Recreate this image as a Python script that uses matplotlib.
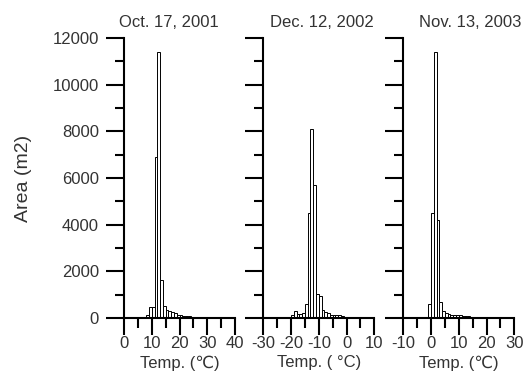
import numpy as np
import matplotlib.pyplot as plt
from matplotlib.ticker import MultipleLocator

plt.rcParams['font.family'] = ['Liberation Sans', 'DejaVu Sans']
plt.rcParams['axes.unicode_minus'] = False

# histogram data, 1 degC bins (left edge of bin)
titles = ['Oct. 17, 2001', 'Dec. 12, 2002', 'Nov. 13, 2003']
xlabels = ['Temp. (\u2103)', 'Temp. ( \u00b0C)', 'Temp. (\u2103)']
xlims = [(0, 40), (-30, 10), (-10, 30)]

bins_2001 = list(range(8, 26))
area_2001 = [150, 480, 470, 6900, 11400, 1650, 520, 330, 310, 250,
             200, 120, 110, 100, 100, 90, 60, 20]

bins_2002 = list(range(-20, 6))
area_2002 = [150, 300, 180, 160, 200, 580, 4500, 8100, 5700, 1050,
             950, 330, 250, 200, 150, 130, 150, 120, 90, 60,
             50, 40, 40, 40, 40, 30]

bins_2003 = list(range(-2, 22))
area_2003 = [40, 620, 4500, 11400, 4200, 680, 320, 220, 160, 150,
             150, 150, 130, 90, 80, 70, 60, 50, 50, 50,
             50, 50, 40, 30]

bins_all = [bins_2001, bins_2002, bins_2003]
area_all = [area_2001, area_2002, area_2003]

fig = plt.figure(figsize=(5.29, 3.82), dpi=100)
lefts = [124 / 529, 263.3 / 529, 403.3 / 529]
title_x = [0.405, 0.53, 0.60]
w = 111 / 529
bottom = 64 / 382
h = 280 / 382
txt = '#333333'
fs = 12

for i in range(3):
    ax = fig.add_axes([lefts[i], bottom, w, h])
    ax.bar(bins_all[i], area_all[i], width=1.0, align='edge',
           facecolor='white', edgecolor='black', linewidth=0.7)
    ax.set_xlim(*xlims[i])
    ax.set_ylim(0, 12000)
    ax.spines['top'].set_visible(False)
    ax.spines['right'].set_visible(False)
    ax.spines['left'].set_linewidth(1.5)
    ax.spines['bottom'].set_linewidth(1.5)
    ax.xaxis.set_major_locator(MultipleLocator(10))
    ax.xaxis.set_minor_locator(MultipleLocator(5))
    ax.yaxis.set_major_locator(MultipleLocator(2000))
    ax.yaxis.set_minor_locator(MultipleLocator(1000))
    ax.tick_params(axis='x', which='major', direction='out', length=12,
                   width=1.5, pad=1, labelsize=fs, labelcolor=txt)
    ax.tick_params(axis='x', which='minor', direction='out', length=7,
                   width=1.5)
    ax.tick_params(axis='y', which='major', direction='out', length=13,
                   width=1.5, pad=5, labelsize=fs, labelcolor=txt)
    ax.tick_params(axis='y', which='minor', direction='out', length=6.5,
                   width=1.5)
    if i > 0:
        ax.tick_params(axis='y', labelleft=False)
    else:
        ax.set_ylabel('Area (m2)', fontsize=14, color=txt, labelpad=15)
    ax.set_xlabel(xlabels[i], fontsize=fs, color=txt, labelpad=3)
    ax.set_title(titles[i], fontsize=fs, color=txt, pad=8, x=title_x[i])
    ax.patch.set_alpha(0)

fig.savefig('out.png', dpi=100)
